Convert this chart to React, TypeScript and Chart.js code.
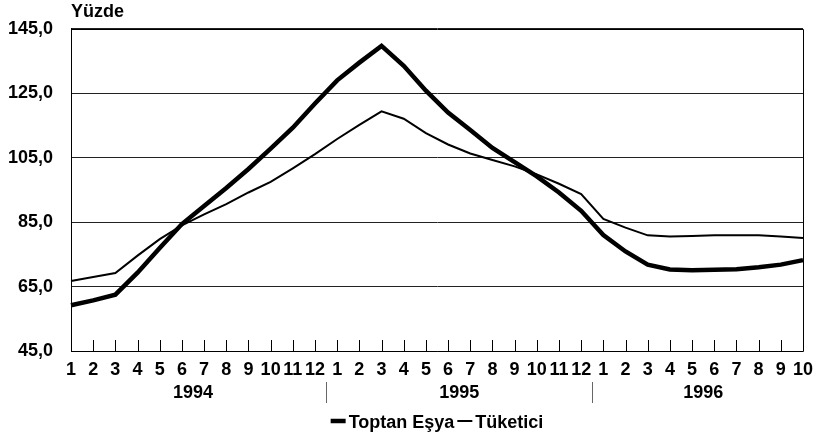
import React, { useEffect, useRef } from "react";
import { Chart, registerables } from "chart.js";

Chart.register(...registerables);

const monthLabels: string[] = [
  "1", "2", "3", "4", "5", "6", "7", "8", "9", "10", "11", "12",
  "1", "2", "3", "4", "5", "6", "7", "8", "9", "10", "11", "12",
  "1", "2", "3", "4", "5", "6", "7", "8", "9", "10",
];

const yearLabels: string[] = ["1994", "1995", "1996"];
const yearSpans: number[] = [12, 12, 10];

const toptanEsya: number[] = [
  59.2, 60.7, 62.5, 69.3, 77.0, 84.4, 90.0, 95.6, 101.5, 107.8, 114.3, 121.8,
  129.0, 134.5, 139.7, 133.5, 125.8, 119.0, 113.6, 108.0, 103.6, 99.2, 94.2, 88.5,
  81.0, 75.9, 71.8, 70.3, 70.1, 70.2, 70.4, 71.0, 71.8, 73.2,
];

const tuketici: number[] = [
  66.7, 68.0, 69.2, 74.6, 79.7, 84.0, 87.4, 90.6, 94.2, 97.5, 101.7, 106.1,
  110.8, 115.2, 119.4, 117.1, 112.6, 109.1, 106.3, 104.3, 102.3, 99.8, 96.9, 93.7,
  86.0, 83.3, 80.9, 80.5, 80.7, 80.9, 80.9, 80.9, 80.5, 80.1,
];

const seriesNames: string[] = ["Toptan Eşya", "Tüketici"];
const yTitle = "Yüzde";

const FONT_FAMILY = '"Liberation Sans", Arial, Helvetica, sans-serif';
const FS = 18;

const extrasPlugin = {
  id: "extras",
  afterDraw(chart: any) {
    const ctx = chart.ctx as CanvasRenderingContext2D;
    const area = chart.chartArea;
    const xs = chart.scales.x;
    ctx.save();

    // plot box
    ctx.strokeStyle = "#000";
    ctx.lineWidth = 1;
    ctx.beginPath();
    ctx.moveTo(Math.round(area.left) + 0.5, Math.round(area.top) + 0.5);
    ctx.lineTo(Math.round(area.right) + 0.5, Math.round(area.top) + 0.5);
    ctx.lineTo(Math.round(area.right) + 0.5, Math.round(area.bottom) + 0.5);
    ctx.lineTo(Math.round(area.left) + 0.5, Math.round(area.bottom) + 0.5);
    ctx.closePath();
    ctx.stroke();

    // inner tick marks on x axis
    ctx.beginPath();
    for (let i = 0; i < monthLabels.length; i++) {
      const px = Math.round(xs.getPixelForValue(i)) + 0.5;
      ctx.moveTo(px, area.bottom - 11);
      ctx.lineTo(px, area.bottom);
    }
    ctx.stroke();

    // year labels and separators
    ctx.font = `bold ${FS}px ${FONT_FAMILY}`;
    ctx.fillStyle = "#000";
    ctx.textAlign = "center";
    ctx.textBaseline = "alphabetic";
    let start = 0;
    for (let k = 0; k < yearLabels.length; k++) {
      const end = start + yearSpans[k] - 1;
      const cx = (xs.getPixelForValue(start) + xs.getPixelForValue(end)) / 2;
      ctx.fillText(yearLabels[k], cx, 398);
      if (k > 0) {
        const sx = Math.round((xs.getPixelForValue(start - 1) + xs.getPixelForValue(start)) / 2) + 0.5;
        ctx.strokeStyle = "#666";
        ctx.beginPath();
        ctx.moveTo(sx, 382);
        ctx.lineTo(sx, 403);
        ctx.stroke();
      }
      start = end + 1;
    }

    // y title
    ctx.textAlign = "left";
    ctx.fillText(yTitle, 71, 17);

    // legend
    const swatch = 15;
    const gap = 3;
    const w0 = ctx.measureText(seriesNames[0]).width;
    const w1 = ctx.measureText(seriesNames[1]).width;
    const total = swatch + gap + w0 + gap + swatch + gap + w1;
    let lx = (area.left + area.right) / 2 - total / 2;
    const ly = 428;
    const midY = 421;
    ctx.strokeStyle = "#000";
    ctx.lineWidth = 4.5;
    ctx.beginPath();
    ctx.moveTo(lx, midY);
    ctx.lineTo(lx + swatch, midY);
    ctx.stroke();
    lx += swatch + gap;
    ctx.fillText(seriesNames[0], lx, ly);
    lx += w0 + gap;
    ctx.lineWidth = 2;
    ctx.beginPath();
    ctx.moveTo(lx, midY);
    ctx.lineTo(lx + swatch, midY);
    ctx.stroke();
    lx += swatch + gap;
    ctx.fillText(seriesNames[1], lx, ly);

    ctx.restore();
  },
};

export default function App() {
  const canvasRef = useRef<HTMLCanvasElement | null>(null);

  useEffect(() => {
    document.body.style.margin = "0";
    const canvas = canvasRef.current;
    if (!canvas) return;
    const chart = new Chart(canvas, {
      type: "line",
      data: {
        labels: monthLabels,
        datasets: [
          {
            label: seriesNames[0],
            data: toptanEsya,
            borderColor: "#000",
            borderWidth: 4.5,
            pointRadius: 0,
            tension: 0,
            fill: false,
          },
          {
            label: seriesNames[1],
            data: tuketici,
            borderColor: "#000",
            borderWidth: 2,
            pointRadius: 0,
            tension: 0,
            fill: false,
          },
        ],
      },
      options: {
        animation: false,
        responsive: false,
        maintainAspectRatio: false,
        devicePixelRatio: 1,
        layout: { padding: { top: 28, right: 12, left: 0, bottom: 0 } },
        plugins: {
          legend: { display: false },
          tooltip: { enabled: false },
          title: { display: false },
        },
        scales: {
          x: {
            type: "category",
            offset: false,
            grid: { display: false, drawTicks: false, tickLength: 0 },
            border: { display: false },
            ticks: {
              autoSkip: false,
              maxRotation: 0,
              minRotation: 0,
              padding: 8,
              color: "#000",
              font: { family: FONT_FAMILY, size: FS, weight: "bold" },
            },
            afterFit: (scale: any) => {
              scale.height = 88;
            },
          },
          y: {
            min: 45,
            max: 145,
            grid: { color: "#222", lineWidth: 1, drawTicks: false, tickLength: 0 },
            border: { display: true, color: "#000" },
            ticks: {
              stepSize: 20,
              padding: 18,
              color: "#000",
              font: { family: FONT_FAMILY, size: FS, weight: "bold" },
              callback: (v: any) => Number(v).toFixed(1).replace(".", ","),
            },
            afterFit: (scale: any) => {
              scale.width = 71;
            },
          },
        },
      },
      plugins: [extrasPlugin],
    });
    return () => chart.destroy();
  }, []);

  return (
    <div style={{ width: 821, height: 439 }}>
      <canvas ref={canvasRef} width={821} height={439} style={{ display: "block" }} />
    </div>
  );
}
